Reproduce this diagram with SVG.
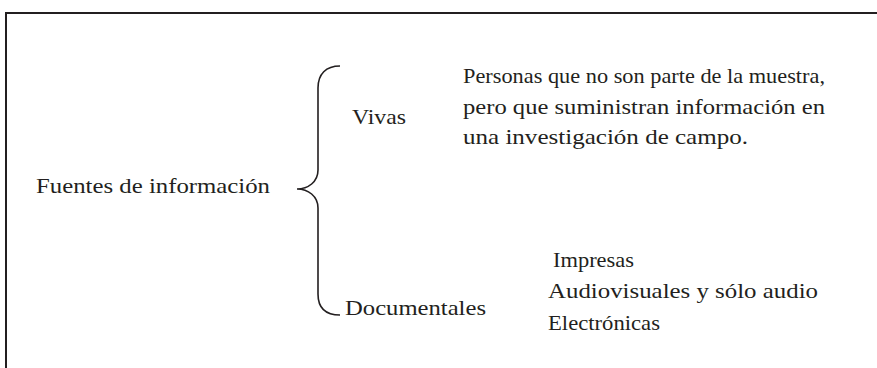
<svg xmlns="http://www.w3.org/2000/svg" width="877" height="368" viewBox="0 0 877 368">
<style>
.t{font-family:"Liberation Serif","Times New Roman",serif;font-size:21px;fill:#231f20}
.frame{fill:none;stroke:#231f20;stroke-width:2}
.brace{fill:none;stroke:#231f20;stroke-width:1.6}
</style>
<rect width="877" height="368" fill="#fff"/>
<path class="frame" d="M6,370 V13 H880"/>
<g id="connectors">
<path class="brace" d="M340,66 C326,66 318,74 318,88 L318,170 C318,182 308,189 297,189 C308,189 318,196 318,208 L318,294 C318,308 326,315 340,315"/>
</g>
<g id="root"><text class="t" x="36" y="193" textLength="234" lengthAdjust="spacingAndGlyphs">Fuentes de información</text></g>
<g id="vivas"><text class="t" x="352" y="124" textLength="54" lengthAdjust="spacingAndGlyphs">Vivas</text></g>
<g id="vivas-desc">
<text class="t" x="463" y="83" textLength="362" lengthAdjust="spacingAndGlyphs">Personas que no son parte de la muestra,</text>
<text class="t" x="463" y="114" textLength="362" lengthAdjust="spacingAndGlyphs">pero que suministran información en</text>
<text class="t" x="463" y="144" textLength="285" lengthAdjust="spacingAndGlyphs">una investigación de campo.</text>
</g>
<g id="documentales"><text class="t" x="345" y="315" textLength="141" lengthAdjust="spacingAndGlyphs">Documentales</text></g>
<g id="impresas"><text class="t" x="553" y="267" textLength="81" lengthAdjust="spacingAndGlyphs">Impresas</text></g>
<g id="audiovisuales"><text class="t" x="548" y="298" textLength="270" lengthAdjust="spacingAndGlyphs">Audiovisuales y sólo audio</text></g>
<g id="electronicas"><text class="t" x="548" y="330" textLength="112" lengthAdjust="spacingAndGlyphs">Electrónicas</text></g>
</svg>
